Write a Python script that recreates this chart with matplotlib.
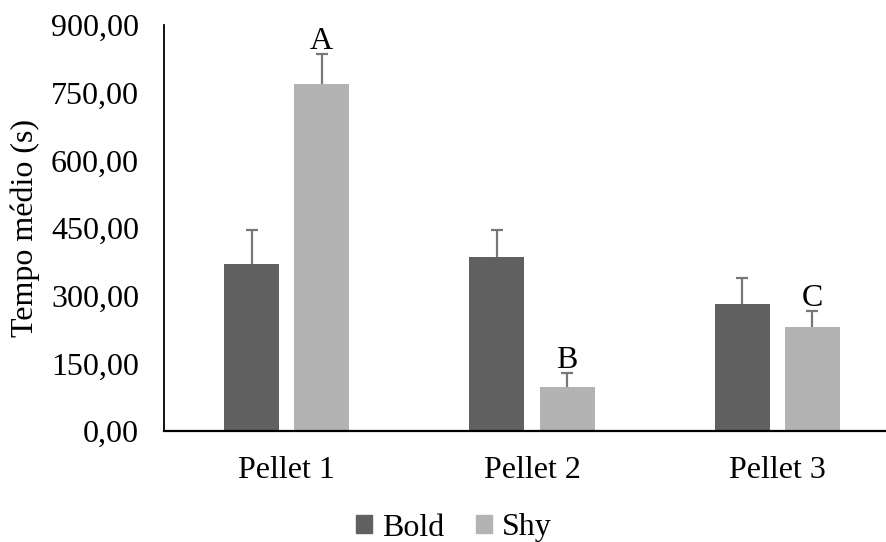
import numpy as np
import matplotlib
matplotlib.use("Agg")
import matplotlib.pyplot as plt
from matplotlib.patches import Rectangle

plt.rcParams["font.family"] = ["Liberation Serif", "DejaVu Serif"]

categorias = ["Pellet 1", "Pellet 2", "Pellet 3"]
bold_media = [370, 386, 281]
bold_erro = [75, 59, 58]
shy_media = [769, 98, 231]
shy_erro = [66, 30, 35]
letras_shy = ["A", "B", "C"]
yticks = [0, 150, 300, 450, 600, 750, 900]

cor_bold = "#606060"
cor_shy = "#b3b3b3"
cor_erro = "#777777"
fs = 23

fig = plt.figure(figsize=(8.86, 5.42), dpi=100)
ax = fig.add_axes([164 / 886, 1 - 431 / 542, 736 / 886, 406 / 542])

x = np.arange(len(categorias))
largura = 0.2245
desloc = 0.143

for pos, medias, erros, cor in [(x - desloc, bold_media, bold_erro, cor_bold),
                                (x + desloc, shy_media, shy_erro, cor_shy)]:
    barras = ax.bar(pos, medias, largura, color=cor,
                    yerr=[[0] * 3, erros], ecolor=cor_erro,
                    error_kw=dict(elinewidth=1.6, capsize=4.5, capthick=1.6))
    # so o erro para cima: esconder a barrinha de baixo
    caps = barras.errorbar.lines[1]
    caps[0].set_visible(False)

for xi, m, e, l in zip(x, shy_media, shy_erro, letras_shy):
    ax.text(xi + desloc, m + e + 11, l, ha="center", va="baseline", fontsize=fs)

ax.set_xlim(-0.5, 2.5)
ax.set_ylim(0, 900)
ax.set_yticks(yticks)
ax.set_yticklabels([f"{v:.2f}".replace(".", ",") for v in yticks], fontsize=fs)
ax.set_xticks(x)
ax.set_xticklabels(categorias, fontsize=fs)
ax.tick_params(axis="y", length=0, pad=18)
ax.tick_params(axis="x", length=0, pad=18)

for s in ["top", "right"]:
    ax.spines[s].set_visible(False)
ax.spines["left"].set_linewidth(1.3)
ax.spines["bottom"].set_linewidth(1.6)

fig.text(25 / 886, 1 - 228 / 542, "Tempo médio (s)", rotation=90,
         ha="center", va="center", fontsize=fs)

handles = [Rectangle((0, 0), 1, 1, color=cor_bold),
           Rectangle((0, 0), 1, 1, color=cor_shy)]
fig.legend(handles, ["Bold", "Shy"], loc="center", ncol=2,
           bbox_to_anchor=(454 / 886, 1 - 528 / 542), frameon=False,
           fontsize=fs, handlelength=0.5, handleheight=0.5,
           handletextpad=0.3, columnspacing=1.0)

fig.savefig("out.png", dpi=100)
